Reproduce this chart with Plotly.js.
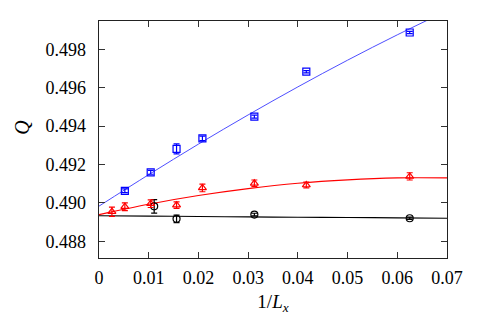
<!DOCTYPE html>
<html>
<head>
<meta charset="utf-8">
<script src="https://cdn.plot.ly/plotly-3.0.1.min.js"></script>
<style>html,body{margin:0;padding:0;background:#fff;}#chart{width:480px;height:335px;}</style>
</head>
<body>
<div id="chart"></div>
<script>
// Data
const blueX = [0.0052, 0.0104, 0.0156, 0.0208, 0.03125, 0.0417, 0.0625];
const blueQ = [0.49063, 0.49159, 0.49281, 0.49336, 0.49449, 0.49683, 0.49887];
const blueErr = [0.00010, 0.00010, 0.00026, 0.00012, 0.00008, 0.00006, 0.00006];

const redX = [0.0026, 0.0052, 0.0104, 0.0156, 0.0208, 0.03125, 0.0417, 0.0625];
const redQ = [0.48954, 0.48980, 0.48996, 0.48988, 0.49078, 0.49102, 0.49093, 0.49138];
const redErr = [0.00024, 0.00020, 0.00020, 0.00017, 0.00020, 0.00017, 0.00015, 0.00019];

const blackX = [0.0111, 0.0156, 0.03125, 0.0625];
const blackQ = [0.48982, 0.48917, 0.48939, 0.48920];
const blackErr = [0.00035, 0.00020, 0.00007, 0.00006];

// Fitted curves, values
const fitX = [0, 0.01, 0.02, 0.03, 0.04, 0.05, 0.06, 0.07];
const fitBlue = [0.48983, 0.49147, 0.49306, 0.49458, 0.49604, 0.49743, 0.49875, 0.50000];
const fitRed = [0.48939, 0.48993, 0.49038, 0.49074, 0.49102, 0.49120, 0.49130, 0.49130];
const fitBlack = [0.48933, 0.48931, 0.48929, 0.48927, 0.48925, 0.48924, 0.48922, 0.48920];

const xTicks = [0, 0.01, 0.02, 0.03, 0.04, 0.05, 0.06, 0.07];
const xTickText = ['0', '0.01', '0.02', '0.03', '0.04', '0.05', '0.06', '0.07'];
const yTicks = [0.488, 0.490, 0.492, 0.494, 0.496, 0.498];
const yTickText = ['0.488', '0.490', '0.492', '0.494', '0.496', '0.498'];
const xTitle = '1/<i>L<sub>x</sub></i>';
const yTitle = '<i>Q</i>';

function pts(x, y, err, color, symbol) {
  return {
    x: x, y: y, type: 'scatter', mode: 'markers', showlegend: false, cliponaxis: true,
    marker: {symbol: symbol, size: 7, color: color, line: {color: color, width: 1.2}},
    error_y: {type: 'data', array: err, visible: true, color: color, thickness: 1.2, width: 3}
  };
}
function fit(y, color, w) {
  return {x: fitX, y: y, type: 'scatter', mode: 'lines', showlegend: false,
          line: {color: color, width: w, shape: 'spline'}};
}

const data = [
  fit(fitBlack, '#000000', 1.1),
  fit(fitRed, '#ff0000', 1.1),
  fit(fitBlue, '#3a3aff', 0.9),
  pts(blackX, blackQ, blackErr, '#000000', 'circle-open'),
  pts(redX, redQ, redErr, '#ff0000', 'triangle-up-open'),
  pts(blueX, blueQ, blueErr, '#0000ff', 'square-open')
];

const FAM = '"Liberation Serif"';
const font = {family: FAM, size: 18, color: '#000'};

const layout = {
  width: 480, height: 335,
  margin: {l: 99, r: 33, t: 21, b: 77, pad: 0},
  paper_bgcolor: '#fff', plot_bgcolor: '#fff',
  font: font,
  showlegend: false,
  xaxis: {
    range: [0, 0.07], tickvals: xTicks, ticktext: xTickText,
    ticks: 'inside', ticklen: 6, tickwidth: 1, tickcolor: '#333',
    showline: true, linecolor: '#222', linewidth: 1.3, mirror: 'ticks',
    showgrid: false, zeroline: false, ticklabelstandoff: 3,
    tickfont: {family: FAM, size: 18, color: '#000'},
    title: {text: xTitle, font: {family: FAM, size: 19, color: '#000'}, standoff: 7}
  },
  yaxis: {
    range: [0.48713, 0.49947], tickvals: yTicks, ticktext: yTickText,
    ticks: 'inside', ticklen: 6, tickwidth: 1, tickcolor: '#333',
    showline: true, linecolor: '#222', linewidth: 1.3, mirror: 'ticks',
    showgrid: false, zeroline: false, ticklabelstandoff: 8,
    tickfont: {family: FAM, size: 18, color: '#000'}
  },
  annotations: [{
    text: yTitle, xref: 'paper', yref: 'paper', x: -0.221, y: 0.55,
    xanchor: 'center', yanchor: 'middle', showarrow: false, textangle: -90,
    font: {family: FAM, size: 20, color: '#000'}
  }]
};

Plotly.newPlot('chart', data, layout, {displayModeBar: false, staticPlot: true});
</script>
</body>
</html>
